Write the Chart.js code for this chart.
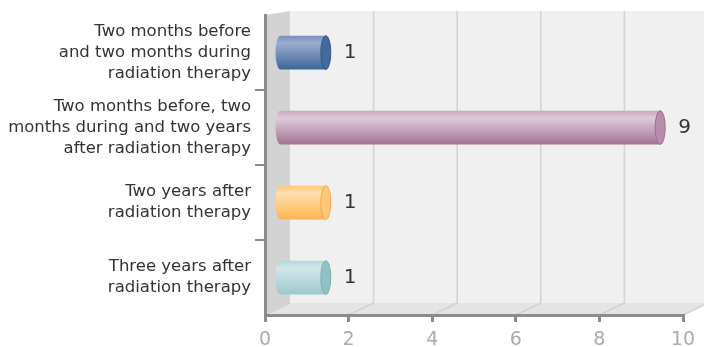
<!DOCTYPE html>
<html>
<head>
<meta charset="utf-8">
<script src="https://cdn.jsdelivr.net/npm/chart.js@4.4.1/dist/chart.umd.min.js"></script>
<style>
  html, body { margin: 0; padding: 0; background: #fff; }
  #wrap { width: 704px; height: 347px; }
</style>
</head>
<body>
<div id="wrap"><canvas id="chart" width="704" height="347"></canvas></div>
<script>
// categories, one multi-line label each
const categories = [
  ['Two months before', 'and two months during', 'radiation therapy'],
  ['Two months before, two', 'months during and two years', 'after radiation therapy'],
  ['Two years after', 'radiation therapy'],
  ['Three years after', 'radiation therapy']
];
const counts = [1, 9, 1, 1];
const xTicks = [0, 2, 4, 6, 8, 10];

// cylinder shading: top edge, highlight, bottom edge, then end cap fill and rim
const tubeTop   = ['#7990bb', '#caa6be', '#ffc676', '#b3d7db'];
const tubeLight = ['#9cadcf', '#ddccd9', '#ffdfae', '#d2e6e9'];
const tubeBot   = ['#3d6597', '#a27393', '#fdb450', '#9dc9ce'];
const capFill   = ['#44699b', '#b68daa', '#ffc878', '#8ec2c6'];
const capRim    = ['#2d5a8c', '#9c6f90', '#f3ab4a', '#7cb3b8'];

const FONT = '"DejaVu Sans", "Liberation Sans", sans-serif';

// 3d box depth
const DX = 25, DY_TOP = 4, DY_BOT = 12;

const walls = {
  id: 'walls',
  beforeDraw(chart) {
    const { ctx, chartArea: a, scales: { x } } = chart;
    const W = chart.width;
    ctx.save();
    // back wall
    ctx.fillStyle = '#f0f0f0';
    ctx.fillRect(a.left + DX, a.top - DY_TOP, W - a.left - DX, a.bottom - DY_BOT - a.top + DY_TOP);
    // floor
    ctx.fillStyle = '#e4e4e5';
    ctx.beginPath();
    ctx.moveTo(a.left, a.bottom);
    ctx.lineTo(a.right, a.bottom);
    ctx.lineTo(a.right + DX, a.bottom - DY_BOT);
    ctx.lineTo(a.left + DX, a.bottom - DY_BOT);
    ctx.closePath();
    ctx.fill();
    // left wall
    ctx.fillStyle = '#d3d3d4';
    ctx.beginPath();
    ctx.moveTo(a.left, a.top);
    ctx.lineTo(a.left + DX, a.top - DY_TOP);
    ctx.lineTo(a.left + DX, a.bottom - DY_BOT);
    ctx.lineTo(a.left, a.bottom);
    ctx.closePath();
    ctx.fill();
    // grid on back wall and floor
    ctx.strokeStyle = '#d2d2d2';
    ctx.lineWidth = 1.5;
    xTicks.forEach(t => {
      const px = x.getPixelForValue(t);
      ctx.beginPath();
      ctx.moveTo(px, a.bottom);
      ctx.lineTo(px + DX, a.bottom - DY_BOT);
      if (t > 0) ctx.lineTo(px + DX, a.top - DY_TOP);
      ctx.stroke();
    });
    ctx.restore();
  }
};

const cylinders = {
  id: 'cylinders',
  afterDatasetsDraw(chart) {
    const { ctx } = chart;
    const meta = chart.getDatasetMeta(0);
    ctx.save();
    meta.data.forEach((bar, i) => {
      const h = bar.height, cy = bar.y, top = cy - h / 2;
      const rx = 5, ry = h / 2;
      const left = bar.base + 9 + rx;
      const right = bar.x + 19;
      const g = ctx.createLinearGradient(0, top, 0, top + h);
      g.addColorStop(0, tubeTop[i]);
      g.addColorStop(0.22, tubeLight[i]);
      g.addColorStop(1, tubeBot[i]);
      ctx.fillStyle = g;
      ctx.beginPath();
      ctx.ellipse(left, cy, rx, ry, 0, Math.PI / 2, Math.PI * 1.5);
      ctx.lineTo(right, top);
      ctx.lineTo(right, top + h);
      ctx.closePath();
      ctx.fill();
      // end cap
      ctx.beginPath();
      ctx.ellipse(right, cy, rx, ry, 0, 0, Math.PI * 2);
      ctx.fillStyle = capFill[i];
      ctx.fill();
      ctx.strokeStyle = capRim[i];
      ctx.lineWidth = 1;
      ctx.stroke();
      // value label
      ctx.fillStyle = '#333';
      ctx.font = '20px ' + FONT;
      ctx.textAlign = 'left';
      ctx.textBaseline = 'middle';
      ctx.fillText(String(counts[i]), right + rx + 13, cy);
    });
    ctx.restore();
  }
};

new Chart(document.getElementById('chart'), {
  type: 'bar',
  data: {
    labels: categories,
    datasets: [{
      data: counts,
      backgroundColor: 'rgba(0,0,0,0)',
      borderWidth: 0,
      categoryPercentage: 1,
      barPercentage: 0.45
    }]
  },
  options: {
    indexAxis: 'y',
    responsive: false,
    animation: false,
    devicePixelRatio: 1,
    layout: { padding: { top: 15, right: 21, left: 0, bottom: 0 } },
    plugins: { legend: { display: false }, tooltip: { enabled: false } },
    scales: {
      x: {
        min: 0,
        max: 10,
        afterBuildTicks(scale) { scale.ticks = xTicks.map(v => ({ value: v })); },
        afterFit(scale) { scale.height = 32; },
        grid: { drawOnChartArea: false, drawTicks: true, tickLength: 7, color: '#8c8c8c', lineWidth: 3 },
        border: { display: true, color: '#8c8c8c', width: 3 },
        ticks: { color: '#ababab', padding: 7, font: { family: FONT, size: 19 } }
      },
      y: {
        afterFit(scale) {
          scale.width = 265;
          scale.paddingTop = 0;
          scale.paddingBottom = 0;
        },
        grid: {
          drawOnChartArea: false,
          tickLength: 10,
          lineWidth: 2,
          // only the marks between categories
          color: c => (c.type === 'tick' && c.index > 0) ? '#8c8c8c' : 'rgba(0,0,0,0)'
        },
        border: { display: true, color: '#8c8c8c', width: 3 },
        ticks: { color: '#333', padding: 4, font: { family: FONT, size: 16.5, lineHeight: 1.28 } }
      }
    }
  },
  plugins: [walls, cylinders]
});
</script>
</body>
</html>
